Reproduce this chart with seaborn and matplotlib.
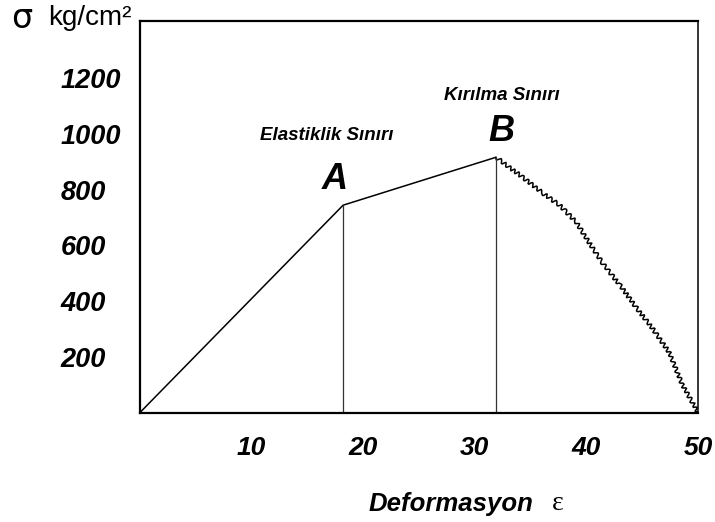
import numpy as np
import pandas as pd
import matplotlib
matplotlib.use("Agg")
import matplotlib.pyplot as plt
import seaborn as sns

# Gerilme - deformasyon egrisi
strain = [0, 18.2, 31.9, 34.3, 36.1, 37.6, 39.1, 40.0, 41.4, 43.0, 44.5, 45.9, 47.4, 48.6, 50.0]
stress = [0, 744, 916, 844, 787, 744, 683, 625, 539, 457, 375, 303, 217, 99, 0]

point_names = ["A", "B"]
point_strain = [18.2, 31.9]
point_stress = [744, 916]
point_titles = ["Elastiklik Sınırı", "Kırılma Sınırı"]

x_ticks = [10, 20, 30, 40, 50]
y_ticks = [200, 400, 600, 800, 1000, 1200]

sns.set_theme(style="white")
plt.rcParams['font.family'] = ['Liberation Sans', 'DejaVu Sans']
plt.rcParams['text.color'] = 'black'
plt.rcParams['xtick.color'] = 'black'
plt.rcParams['ytick.color'] = 'black'

df = pd.DataFrame({"strain": strain, "stress": stress})
rise = df.iloc[:3]
fall = df.iloc[2:]

fig = plt.figure(figsize=(7.15, 5.22), dpi=100)
ax = fig.add_axes([140 / 715, 1 - 412.5 / 522, 558 / 715, 391.5 / 522])

sns.lineplot(data=rise, x="strain", y="stress", sort=False, estimator=None,
             color="black", linewidth=1.1, ax=ax)
sns.lineplot(data=fall, x="strain", y="stress", sort=False, estimator=None,
             color="black", linewidth=1.1, ax=ax)
# testere disi gorunum
ax.lines[-1].set_sketch_params(scale=2.0, length=6, randomness=1.5)

ax.vlines(point_strain, 0, point_stress, color="#333333", linewidth=0.9)

ax.set_xlim(0, 50)
ax.set_ylim(0, 1405)
ax.set_xticks(x_ticks)
ax.set_yticks(y_ticks)
ax.set_xticklabels([str(v) for v in x_ticks], fontsize=19, fontweight="bold", fontstyle="italic")
ax.set_yticklabels([str(v) for v in y_ticks], fontsize=19.5, fontweight="bold", fontstyle="italic",
                   ha="left")
ax.tick_params(axis="x", length=0, pad=17)
ax.tick_params(axis="y", length=0, pad=57)
ax.set_xlabel("")
ax.set_ylabel("")

for side in ["left", "bottom", "top"]:
    ax.spines[side].set_linewidth(1.6)
    ax.spines[side].set_color("black")
ax.spines["right"].set_linewidth(1.1)
ax.spines["right"].set_color("black")

# A ve B harfleri
for name, xs, ys in zip(point_names, point_strain, point_stress):
    ax.annotate(name, (xs, ys), xytext=(-6 if name == "A" else 4, 6), textcoords="offset points",
                ha="center", va="bottom", fontsize=26, fontweight="bold", fontstyle="italic")

fig.text(327 / 715, 1 - 136 / 522, point_titles[0], ha="center", va="center",
         fontsize=13.5, fontweight="bold", fontstyle="italic")
fig.text(502 / 715, 1 - 95 / 522, point_titles[1], ha="center", va="center",
         fontsize=13.5, fontweight="bold", fontstyle="italic")

# eksen basliklari
fig.text(11 / 715, 1 - 19 / 522, "σ", ha="left", va="center", fontsize=24,
         family=["DejaVu Sans"])
fig.text(48 / 715, 1 - 18 / 522, "kg/cm²", ha="left", va="center", fontsize=20)
fig.text(533 / 715, 1 - 504 / 522, "Deformasyon", ha="right", va="center",
         fontsize=18.5, fontweight="bold", fontstyle="italic")
fig.text(552 / 715, 1 - 504 / 522, "ε", ha="left", va="center", fontsize=20,
         family=["Liberation Serif"])

fig.savefig("out.png", dpi=100)
